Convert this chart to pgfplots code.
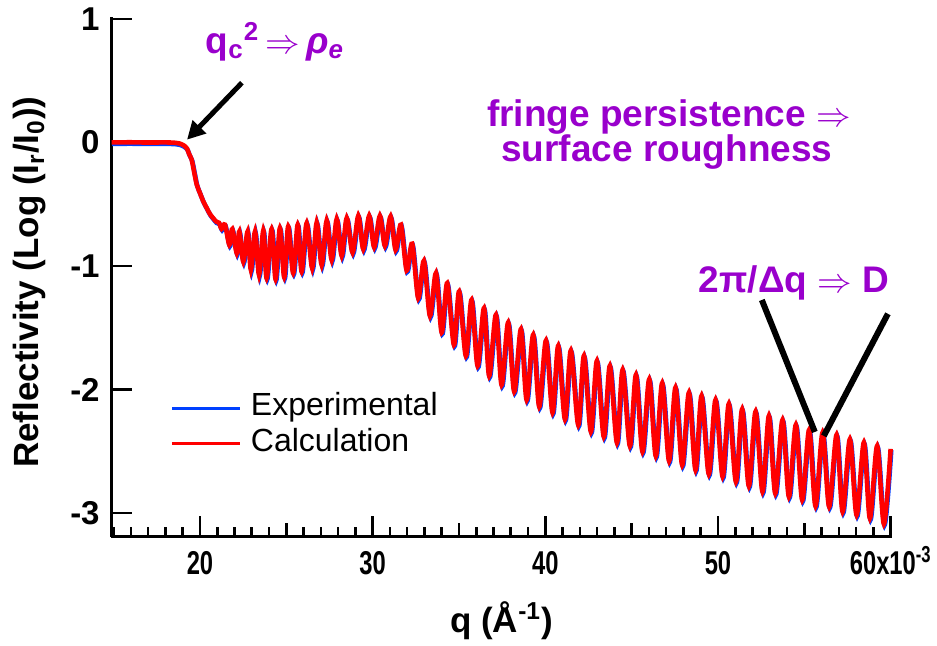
\documentclass[border=0pt]{standalone}
\usepackage{fontspec}
\setmainfont{Liberation Sans}
\usepackage{pgfplots}
\usepackage{pgfplotstable}
\pgfplotsset{compat=1.18}
\usetikzlibrary{arrows.meta}
\definecolor{annot}{HTML}{9900CC}
\definecolor{expblue}{HTML}{0040FF}
\newcommand\nx[1]{\scalebox{0.72}[1]{#1}}

% reflectivity curve: q (10^-3 1/A), log(Ir/I0)
\pgfplotstableread{
q v
14.88 0.000
16.00 0.001
17.00 -0.001
18.00 0.000
18.55 -0.003
18.84 -0.010
19.07 -0.025
19.25 -0.050
19.36 -0.090
19.52 -0.140
19.65 -0.230
19.81 -0.340
20.00 -0.410
20.17 -0.470
20.35 -0.520
20.58 -0.580
20.75 -0.610
20.93 -0.640
21.10 -0.650
21.25 -0.699
21.45 -0.666
21.70 -0.828
21.87 -0.701
22.13 -0.896
22.28 -0.721
22.51 -0.964
22.76 -0.721
22.95 -1.031
23.19 -0.721
23.42 -1.071
23.67 -0.713
23.86 -1.098
24.15 -0.701
24.38 -1.106
24.63 -0.693
24.88 -1.090
25.11 -0.680
25.40 -1.057
25.66 -0.666
25.89 -1.045
26.18 -0.653
26.50 -1.017
26.76 -0.648
27.05 -0.990
27.34 -0.632
27.63 -0.950
27.92 -0.620
28.21 -0.917
28.50 -0.612
28.84 -0.891
29.17 -0.594
29.46 -0.863
29.80 -0.594
30.09 -0.847
30.42 -0.594
30.71 -0.836
31.04 -0.599
31.33 -0.869
31.64 -0.666
31.97 -1.036
32.29 -0.820
32.64 -1.260
32.97 -0.958
33.32 -1.403
33.67 -1.057
34.00 -1.538
34.32 -1.138
34.71 -1.638
35.01 -1.206
35.40 -1.727
35.73 -1.274
36.08 -1.808
36.45 -1.341
36.75 -1.889
37.14 -1.395
37.47 -1.962
37.85 -1.457
38.20 -2.016
38.59 -1.511
38.92 -2.083
39.30 -1.557
39.65 -2.138
40.04 -1.603
40.42 -2.186
40.75 -1.646
41.14 -2.240
41.48 -1.684
41.91 -2.286
42.24 -1.727
42.64 -2.340
42.99 -1.768
43.39 -2.381
43.74 -1.808
44.15 -2.429
44.48 -1.840
44.90 -2.456
45.25 -1.881
45.63 -2.502
46.02 -1.916
46.40 -2.537
46.77 -1.948
47.17 -2.577
47.54 -1.984
47.93 -2.610
48.32 -2.024
48.70 -2.650
49.05 -2.051
49.47 -2.683
49.86 -2.083
50.27 -2.704
50.63 -2.116
51.04 -2.745
51.40 -2.159
51.79 -2.780
52.18 -2.178
52.58 -2.826
52.95 -2.213
53.32 -2.839
53.74 -2.245
54.11 -2.866
54.51 -2.286
54.88 -2.893
55.28 -2.326
55.65 -2.942
56.06 -2.348
56.44 -2.947
56.87 -2.367
57.22 -2.988
57.64 -2.402
58.03 -3.015
58.45 -2.429
58.80 -3.041
59.22 -2.456
59.61 -3.087
60.00 -2.480
}\refl

\begin{document}
\begin{tikzpicture}
\begin{axis}[
  scale only axis, width=390pt, height=260pt,
  at={(0,0)}, anchor=south west,
  xmin=14.876, xmax=60.05, ymin=-3.193, ymax=1.015,
  axis x line*=bottom, axis y line*=left,
  axis line style={line width=1.5pt},
  tick align=inside,
  tick style={black, line width=1.3pt},
  major tick length=10.5pt, minor tick length=5pt,
  xtick={20,30,40,50,60},
  xticklabels={\nx{20},\nx{30},\nx{40},\nx{50},\nx{60x10\textsuperscript{-3}}},
  minor xtick={15,16,...,59},
  extra x ticks={25,35,45,55},
  extra x tick labels={},
  extra x tick style={major tick length=7pt},
  ytick={-3,-2,-1,0,1},
  yticklabels={-3,-2,-1,0,1},
  ticklabel style={font=\fontsize{16.5}{18}\selectfont\bfseries},
  xticklabel style={anchor=north, inner sep=0pt, text height=11.8pt, yshift=-7pt},
  yticklabel style={anchor=east, inner sep=0pt, xshift=-5.75pt},
  xlabel={q (Å\textsuperscript{-1})},
  ylabel={Reflectivity (Log (I\textsubscript{r}/I\textsubscript{0}))},
  label style={font=\fontsize{17.5}{20}\selectfont\bfseries},
  xlabel style={at={(axis description cs:0.5,-0.183)}, anchor=base},
  ylabel style={at={(axis description cs:-0.1045,0.49)}, anchor=center},
  legend cell align=left,
  legend style={at={(axis description cs:0.0672,0.215)}, anchor=west,
    draw=none, fill=none, font=\fontsize{16}{18}\selectfont,
    nodes={inner sep=0pt, text height=11.5pt, text depth=3.5pt},
    row sep=3pt, column sep=4.5pt},
  legend image code/.code={\draw[#1, line width=1.5pt] (0pt,0pt) -- (34pt,0pt);},
  clip=false,
]
\addplot[expblue, line width=2.3pt, smooth, xshift=0.3pt, yshift=-0.7pt] table[x=q, y=v] {\refl};
\addlegendentry{Experimental}
\addplot[red, line width=2.3pt, smooth] table[x=q, y=v] {\refl};
\addlegendentry{Calculation}

\node[text=annot, font=\fontsize{18.5}{20}\selectfont\bfseries] at (axis cs:24.34,0.815)
  {q\textsubscript{c}\textsuperscript{2}\,$\Rightarrow$\,\textit{ρ}\textsubscript{\textit{e}}};
\node[text=annot, font=\fontsize{18.5}{20}\selectfont\bfseries] at (axis cs:47.16,0.207)
  {fringe persistence $\Rightarrow$};
\node[text=annot, font=\fontsize{18.5}{20}\selectfont\bfseries] at (axis cs:47.04,-0.075)
  {surface roughness};
\node[text=annot, font=\fontsize{18.5}{20}\selectfont\bfseries] at (axis cs:54.40,-1.137)
  {2π/Δq $\Rightarrow$ D};

\draw[line width=2.5pt, -{Triangle[length=9pt, width=9pt]}] (axis cs:22.43,0.483) -- (axis cs:19.25,0.022);
\draw[line width=3pt] (axis cs:52.54,-1.275) -- (axis cs:55.61,-2.343);
\draw[line width=3pt] (axis cs:59.84,-1.387) -- (axis cs:56.13,-2.375);
\end{axis}
\pgfresetboundingbox
\path[use as bounding box] (-55.75pt,-54.5pt) rectangle (412.75pt,268.5pt);
\end{tikzpicture}
\end{document}
